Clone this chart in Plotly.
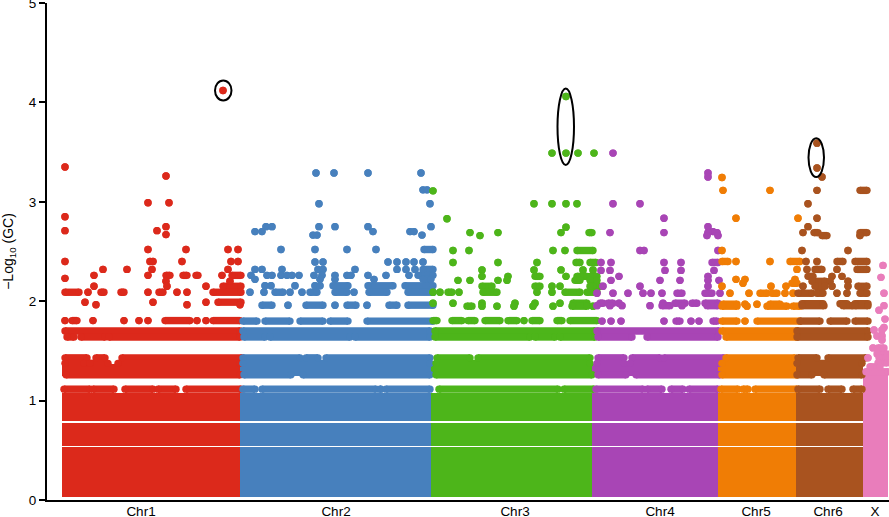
import plotly.graph_objects as go

# ---- chromosome layout (cumulative genome position) ----
chrom_names = ["Chr1", "Chr2", "Chr3", "Chr4", "Chr5", "Chr6", "X"]
chrom_colors = ["#DC291B", "#4780BD", "#4DB51A", "#A845B5", "#F07D05", "#A9531F", "#E97DBB"]
chrom_start = [62, 240, 431, 592, 718, 796, 863]
chrom_end = [240, 431, 592, 718, 796, 863, 888]
chrom_center = [141, 336, 515, 660, 756, 828, 875]

# solid -log10(GC) bands shared by the autosomes
band_low = [0.03, 0.545, 0.79, 1.25]
band_high = [0.535, 0.77, 1.075, 1.37]
x_band_low = [0.03]
x_band_high = [1.26]

# each entry of *_y is a -log10(GC) level; entry of *_x is the positions at that level,
# a pair (a, b) meaning a run of overlapping SNPs from a to b
chr1_y = [4.12, 3.35, 3.26, 2.99, 2.85, 2.75, 2.71, 2.67, 2.52, 2.40, 2.32, 2.26, 2.23, 2.20, 2.15, 2.09, 1.99, 1.965,
          1.805, 1.70, 1.64, 1.43, 1.375, 1.26, 1.115]
chr1_x = [[223], [65], [166], [148, 169], [65], [166], [65, 157], [166], [148, 186, 228, 238],
          [65, 150, 153, 182, 231, 238], [103, 127, 152, 228],
          [94, 148, (166, 170), (183, 187), (196, 198), 222, (232, 241)], [65], [166, 230],
          [94, 167, 206, (223, 241)],
          [(65, 79), 88, (101, 104), (121, 124), 148, (159, 163), 177, 187, (213, 241)],
          [85, 153, 206, (218, 241)], [96, 187, 240],
          [65, (72, 77), 93, 124, 139, 148, (165, 190), 197, 206, (213, 240)],
          [(65, 240)], [(67, 74), (81, 105), (109, 240)],
          [(65, 87), (96, 105), (122, 242)], [(65, 84), (90, 108), (118, 240)], [(66, 240)],
          [(64, 90), (93, 114), (125, 153), (158, 176), (186, 241)]]

chr2_y = [3.29, 3.12, 2.98, 2.75, 2.70, 2.665, 2.52, 2.395, 2.32, 2.26, 2.22, 2.155, 2.09, 1.96, 1.80, 1.70, 1.64,
          1.43, 1.375, 1.26, 1.115]
chr2_x = [[316, 334, 368, 421], [423, 427], [319, 430], [266, 272, 319, 335, 368, 431],
          [255, 262, 373, 410, 414], [313, 317, 422],
          [281, 315, 347, 376, (424, 433)], [315, 323, 388, 397, 406, 414, 423],
          [255, 262, 282, 318, 323, 355, 397, 406, 415, (423, 433)],
          [251, 267, 272, 281, 287, 292, 299, 314, 322, 335, 347, 351, 368, 386, 409, (418, 433)],
          [255, 320, 335, 374, (423, 431)],
          [265, 271, 295, 315, 320, (333, 348), (368, 393), (405, 433)],
          [250, 264, (275, 283), 290, 302, (310, 317), (335, 347), 354, (369, 387), (408, 433)],
          [(262, 272), 288, (306, 323), 335, (347, 356), 367, (389, 397), (408, 433)],
          [(243, 257), (265, 290), (300, 323), (330, 348), (367, 433)],
          [(243, 430)], [(244, 265), (270, 350), (355, 430)],
          [(243, 300), (306, 318), (326, 430)], [(243, 430)], [(244, 291), (303, 430)],
          [(243, 255), (262, 376), (380, 381), (386, 430)]]

chr3_y = [4.06, 3.49, 3.11, 2.98, 2.83, 2.745, 2.69, 2.66, 2.51, 2.39, 2.315, 2.25, 2.21, 2.15, 2.09, 1.98, 1.95,
          1.805, 1.70, 1.64, 1.43, 1.375, 1.26, 1.115]
chr3_x = [[566], [552, 566, 578, 594], [433], [534, 552, 566, 577], [447], [566], [470, 498, 561, (589, 592)], [480],
          [453, 469, 553, 565, (577, 593)], [453, 498, 537, (576, 580), (590, 596)],
          [482, 534, 561, 583, 593], [482, 508, (535, 540), 566, (577, 587), (590, 597)],
          [458, 470, 498, 507, (575, 580), (590, 597)], [(482, 492), (535, 540), 552, 560, (590, 600)],
          [433, 440, (448, 452), 459, (483, 497), 537, 552, (565, 580), (587, 597)],
          [433, 453, 482, 515, 535, 560, (573, 587)], [(467, 472), 482, 497, 514, 533, 553, (572, 587), 593],
          [(433, 437), (452, 462), (468, 475), (485, 500), (508, 517), 524, (532, 540), (557, 562), (570, 597)],
          [(435, 595)], [(435, 530), (535, 555), (560, 595)],
          [(437, 470), (478, 590)], [(436, 590)], [(436, 592)],
          [(439, 558), (564, 594)]]

chr4_y = [3.49, 3.29, 3.25, 2.98, 2.835, 2.75, 2.70, 2.69, 2.66, 2.51, 2.39, 2.31, 2.25, 2.21, 2.15, 2.08, 1.98,
          1.955, 1.80, 1.70, 1.64, 1.43, 1.375, 1.26, 1.115]
chr4_x = [[613], [708], [708], [613, 640], [664], [708], [713], [610, 664, 708, 717], [707, 718], [640, 644, 718],
          [601, 611, 664, 681, (712, 718)], [601, 610, 665, 681, 714], [619, 708], [611, 660, 680, 708, 719],
          [603, 640, 708], [597, 613, 628, 643, 651, 662, (677, 682), (705, 712), 720],
          [(600, 603), (608, 613), 619, 663, (675, 685), (692, 697), (705, 718)],
          [597, 610, 622, 650, (662, 670), 682, (707, 718)],
          [602, 611, 621, 664, (676, 680), 691, 699, (713, 717)],
          [(597, 719)], [(598, 632), (647, 718)], [(598, 624), (632, 660), (664, 724)], [(597, 624), (630, 720)],
          [(598, 626), (636, 720)], [(596, 643), (647, 662), (671, 683), (689, 718)]]

chr5_y = [3.245, 3.115, 2.835, 2.51, 2.40, 2.32, 2.22, 2.18, 2.15, 2.08, 1.97, 1.95, 1.80, 1.70, 1.64, 1.43, 1.375,
          1.26, 1.115]
chr5_x = [[722], [723, 770], [736, 798], [722], [(722, 728), 736, 770, (790, 800)], [797], [736, 745, 795],
          [743, (792, 797)], [722, 771, 786], [730, 749, (760, 767), (772, 777), 785, 793],
          [(723, 737), 745, 757, (770, 780)], [(722, 737), 747, (767, 787), (793, 800)],
          [(722, 737), 745, (757, 800)], [(722, 797)], [(726, 797)],
          [(726, 795)], [(722, 797)], [(722, 797)], [(721, 738), (743, 748), (755, 797)]]

chr6_y = [3.59, 3.34, 3.25, 3.115, 2.98, 2.835, 2.75, 2.69, 2.66, 2.51, 2.40, 2.32, 2.25, 2.20, 2.15, 2.08, 1.975,
          1.955, 1.80, 1.70, 1.64, 1.43, 1.375, 1.26, 1.115]
chr6_x = [[817], [817], [822], [817, (860, 867)], [808], [817], [808], [803, (814, 818), (860, 867)], [(822, 827), 860],
          [802, 848], [806, 817, (837, 843), (855, 867)], [807, (815, 822), 837, (857, 867)],
          [(808, 813), 832, 842], [(812, 825), 830, 848], [803, (815, 825), 832, 848, (858, 867)],
          [(798, 812), (817, 823), 837, 847, (860, 867)],
          [(802, 823), (840, 847), (855, 868)], [(802, 824), (843, 853), (855, 868)],
          [(800, 820), (830, 847), (855, 868)], [(797, 868)], [(797, 868)],
          [(798, 817), (828, 866)], [(797, 862)], [(797, 812), (824, 862)],
          [(798, 820), (828, 842), (853, 862)]]

chrx_y = [2.36, 2.24, 2.08, 1.955, 1.91, 1.82, 1.735, 1.71, 1.65, 1.61, 1.53, 1.47, 1.43, 1.38, 1.34, 1.29]
chrx_x = [[883], [881], [884], [884], [879], [885], [884], [874, 882], [877, 882], [882], [873, (878, 884)],
          [(877, 887)], [868, (879, 886)], [(878, 887)], [(870, 880)], [(866, 888)]]

all_y = [chr1_y, chr2_y, chr3_y, chr4_y, chr5_y, chr6_y, chrx_y]
all_x = [chr1_x, chr2_x, chr3_x, chr4_x, chr5_x, chr6_x, chrx_x]

y_ticks = [0, 1, 2, 3, 4, 5]

# hand-drawn ellipses around the flagged SNPs: x0, x1, y0, y1
ellipses = [(215, 231.5, 4.02, 4.22), (557.5, 574, 3.37, 4.14), (808.5, 824, 3.25, 3.64)]

SIZE = 7.4
fig = go.Figure()

for i, name in enumerate(chrom_names):
    lows = x_band_low if name == "X" else band_low
    highs = x_band_high if name == "X" else band_high
    fig.add_trace(go.Bar(
        x=[(chrom_start[i] + chrom_end[i]) / 2] * len(lows),
        y=[h - l for l, h in zip(lows, highs)],
        base=lows,
        width=chrom_end[i] - chrom_start[i],
        marker=dict(color=chrom_colors[i], line=dict(width=0)),
        showlegend=False, hoverinfo="skip"))

for i, name in enumerate(chrom_names):
    xs, ys = [], []
    for level, row in zip(all_y[i], all_x[i]):
        for item in row:
            if isinstance(item, tuple):
                xs += [item[0], item[1], None]
            else:
                xs += [item, item, None]
            ys += [level, level, None]
    fig.add_trace(go.Scatter(
        x=xs, y=ys, mode="lines+markers", name=name,
        line=dict(color=chrom_colors[i], width=SIZE),
        marker=dict(color=chrom_colors[i], size=SIZE, line=dict(width=0)),
        showlegend=False, hoverinfo="skip"))

for x0, x1, y0, y1 in ellipses:
    fig.add_shape(type="circle", xref="x", yref="y", x0=x0, x1=x1, y0=y0, y1=y1,
                  line=dict(color="black", width=2))

fig.update_layout(
    template="none",
    width=889, height=517, autosize=False,
    margin=dict(l=47, r=0, t=3, b=17),
    plot_bgcolor="white", paper_bgcolor="white",
    barmode="overlay", bargap=0,
    font=dict(family="Liberation Sans", size=13.5, color="black"),
)
fig.update_xaxes(
    automargin=False, ticklabelstandoff=-2,
    range=[47, 889], tickmode="array", tickvals=chrom_center, ticktext=chrom_names,
    ticks="", showgrid=False, zeroline=False, showline=True, linecolor="black", linewidth=2,
    tickfont=dict(size=13.5, family="Liberation Sans", color="black"))
fig.update_yaxes(
    automargin=False, ticklabeloverflow="allow",
    range=[0, 5], tickmode="array", tickvals=y_ticks, ticktext=[str(t) for t in y_ticks],
    ticks="outside", ticklen=6, tickwidth=1.5, tickcolor="black",
    showgrid=False, zeroline=False, showline=True, linecolor="black", linewidth=2,
    tickfont=dict(size=13.5, family="Liberation Sans", color="black"),
    title=dict(text="−Log<sub>10</sub> (GC)", font=dict(size=14, family="Liberation Sans"), standoff=12))

fig.write_html("out.html", config={"displayModeBar": False},
               post_script="document.body.style.margin='0';document.body.style.overflow='hidden';")
